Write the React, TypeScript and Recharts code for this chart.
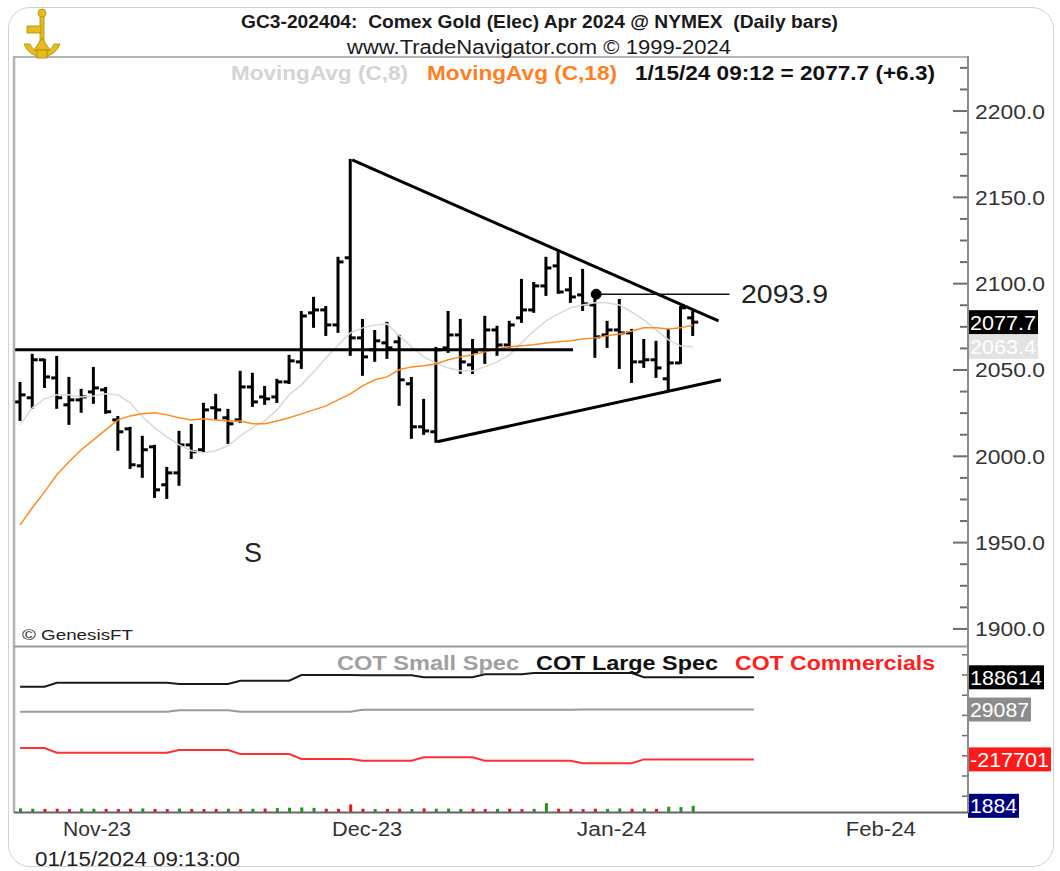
import React from 'react'
import { ComposedChart, Bar, Line, XAxis, YAxis, ReferenceLine, ReferenceDot, Cell } from 'recharts'

const FONT = '"Liberation Sans", Arial, sans-serif'
const PLOT_RIGHT = 968

// daily bars, Oct 26 2023 .. Jan 15 2024 (index = trading day)
const opens = [2031.5, 2033.9, 2055.9, 2045.4, 2029.8, 2032.7, 2037.3, 2038.5, 2021.1, 2015.9, 1994.5, 2005.5, 1983.5, 1990.4, 2006.6, 2003.8, 2028.1, 2022.3, 2021.1, 2040.2, 2034.4, 2034.4, 2043.1, 2054.7, 2083.1, 2084.8, 2076.1, 2115.0, 2068.6, 2061.7, 2065.7, 2066.3, 2042.0, 2017.1, 2014.2, 2062.8, 2070.3, 2053.0, 2061.7, 2073.2, 2064.5, 2080.2, 2084.8, 2098.7, 2110.3, 2096.4, 2093.5, 2087.7, 2070.3, 2073.2, 2071.5, 2054.7, 2055.9, 2044.9, 2054.1, 2080.2]
const highs = [2042.5, 2058.8, 2055.9, 2057.6, 2045.4, 2038.5, 2051.2, 2039.6, 2022.8, 2016.5, 2011.3, 2006.1, 1993.3, 2014.2, 2018.2, 2030.4, 2035.6, 2026.9, 2048.9, 2047.8, 2040.2, 2044.3, 2058.2, 2083.6, 2091.8, 2086.5, 2115.0, 2171.7, 2079.0, 2072.6, 2077.3, 2069.8, 2045.4, 2032.7, 2062.8, 2083.6, 2079.0, 2067.4, 2080.8, 2075.0, 2077.9, 2102.2, 2100.4, 2115.0, 2118.4, 2103.3, 2108.0, 2090.6, 2077.9, 2090.6, 2073.2, 2067.4, 2066.3, 2073.2, 2086.5, 2083.6]
const lows = [2021.1, 2028.1, 2040.2, 2028.1, 2018.8, 2025.8, 2031.0, 2025.2, 2003.8, 1993.3, 1988.1, 1976.5, 1975.9, 1983.5, 1999.1, 2002.6, 2021.7, 2007.8, 2020.0, 2029.2, 2030.4, 2031.5, 2042.5, 2051.2, 2075.0, 2070.3, 2072.1, 2058.8, 2047.2, 2055.3, 2057.0, 2029.8, 2010.7, 2013.0, 2008.4, 2060.5, 2048.3, 2048.3, 2054.1, 2058.8, 2063.4, 2077.9, 2083.7, 2093.5, 2094.7, 2089.4, 2084.8, 2057.6, 2063.4, 2051.2, 2043.1, 2051.8, 2046.0, 2038.5, 2054.1, 2070.3]
const closes = [2035.6, 2055.9, 2046.0, 2033.9, 2032.7, 2034.4, 2039.6, 2025.8, 2014.2, 1995.1, 2003.8, 1980.6, 1990.4, 2006.6, 2002.6, 2026.9, 2026.9, 2018.8, 2040.2, 2031.5, 2033.3, 2043.1, 2055.3, 2081.3, 2084.8, 2076.1, 2112.6, 2068.6, 2057.6, 2066.9, 2062.8, 2044.3, 2017.1, 2014.7, 2061.7, 2070.3, 2054.7, 2060.5, 2073.2, 2064.5, 2076.1, 2084.8, 2098.7, 2109.1, 2095.2, 2092.3, 2088.3, 2069.2, 2073.2, 2071.5, 2054.7, 2055.9, 2051.2, 2054.1, 2086.0, 2077.7]
const ma8 = [2018.2, 2028.1, 2033.3, 2035.6, 2035.6, 2034.4, 2035.0, 2036.2, 2035.6, 2031.0, 2022.9, 2016.5, 2011.3, 2006.6, 2003.2, 2002.0, 2003.2, 2006.1, 2011.9, 2016.5, 2020.5, 2026.9, 2035.6, 2041.4, 2048.9, 2057.0, 2064.5, 2071.5, 2074.4, 2076.1, 2076.7, 2069.8, 2063.4, 2057.6, 2054.1, 2051.2, 2049.5, 2049.5, 2051.8, 2054.7, 2058.8, 2065.7, 2072.6, 2078.4, 2082.5, 2086.0, 2087.7, 2088.9, 2088.9, 2087.7, 2083.6, 2079.0, 2073.2, 2067.4, 2063.9, 2063.4]
const ma18 = [1960.3, 1970.2, 1979.4, 1989.3, 1996.8, 2003.8, 2009.5, 2015.3, 2021.1, 2023.4, 2024.6, 2025.2, 2024.0, 2022.3, 2021.1, 2021.7, 2021.1, 2020.5, 2020.5, 2018.8, 2018.8, 2020.5, 2022.3, 2024.6, 2026.9, 2029.2, 2032.7, 2036.2, 2040.8, 2044.3, 2046.0, 2050.1, 2051.8, 2052.4, 2053.5, 2055.9, 2057.6, 2058.8, 2060.5, 2062.2, 2063.4, 2064.0, 2064.6, 2065.7, 2066.3, 2066.9, 2068.0, 2068.6, 2069.8, 2070.9, 2072.6, 2074.4, 2074.4, 2073.8, 2074.4, 2076.1]

const priceTicks = [1900, 1912.5, 1925, 1937.5, 1950, 1962.5, 1975, 1987.5, 2000, 2012.5, 2025, 2037.5, 2050, 2062.5, 2075, 2087.5, 2100, 2112.5, 2125, 2137.5, 2150, 2162.5, 2175, 2187.5, 2200, 2212.5, 2225]
const monthTicks = [4, 26, 46, 68]
const monthLabels = ['Nov-23', 'Dec-23', 'Jan-24', 'Feb-24']

// drawn lines: [x1, price1, x2, price2]
const trendLines = [
  [27.15, 2171.7, 57.1, 2078.4],
  [-0.5, 2061.7, 45.2, 2061.7],
  [34.1, 2008.4, 57.3, 2044.3],
]
const markLevel = [47.1, 58.0, 2093.9]

// COT (weekly), held from each start index
const cotWeekStart = [0, 3, 13, 18, 23, 28, 33, 38, 42, 46, 51]
const cotLastIdx = 60
const largeSpec = [142100, 161900, 155400, 171800, 200000, 199000, 188600, 204000, 209900, 209900, 188614]
const smallSpec = [18300, 18300, 25500, 18300, 18300, 27500, 28000, 28500, 28000, 28600, 29087]
const commercials = [-161400, -184600, -171300, -191100, -215800, -224200, -207400, -224200, -224200, -237100, -217701]
const cotTicks = [-400000, -300000, -200000, -100000, 0, 100000, 200000, 300000]

const histValues = [1100, 1000, 950, 1000, 900, 1050, 1000, 950, 900, 1000, 1100, 950, 900, 1050, 950, 900, 950, 1000, 900, 1000, 1050, 1200, 1300, 1400, 1250, 1000, 950, 2300, 1000, 900, 950, 1000, 900, 1100, 1000, 1050, 950, 1000, 900, 950, 1000, 900, 950, 2700, 1000, 950, 900, 1000, 950, 1100, 1000, 1050, 950, 1600, 1500, 1884]
const histUp = ['g', 'g', 'r', 'r', 'r', 'g', 'g', 'r', 'r', 'r', 'g', 'r', 'r', 'g', 'r', 'r', 'r', 'g', 'r', 'g', 'r', 'g', 'g', 'g', 'g', 'r', 'r', 'r', 'r', 'g', 'r', 'r', 'g', 'r', 'g', 'g', 'g', 'r', 'r', 'g', 'r', 'r', 'g', 'g', 'r', 'r', 'r', 'r', 'g', 'g', 'r', 'g', 'r', 'g', 'g', 'g']

const priceData = opens.map((o, i) => ({
  idx: i,
  open: o,
  high: highs[i],
  low: lows[i],
  close: closes[i],
  range: [lows[i], highs[i]],
  ma8: ma8[i],
  ma18: ma18[i],
}))

const cotData = Array.from({ length: cotLastIdx + 1 }, (_, i) => {
  let w = 0
  while (w + 1 < cotWeekStart.length && cotWeekStart[w + 1] <= i) w++
  return {
    idx: i,
    large: largeSpec[w],
    small: smallSpec[w],
    comm: commercials[w],
    hist: i < histValues.length ? histValues[i] : null,
  }
})

const OhlcBar = (props: any) => {
  const { x, y, width, height, payload } = props
  if (x == null || y == null || !payload) return null
  const top = Math.min(y, y + height)
  const h = Math.abs(height)
  const cx = x + width / 2
  const span = payload.high - payload.low || 1
  const py = (v: number) => top + ((payload.high - v) / span) * h
  return (
    <g stroke="#000" strokeWidth={3}>
      <line x1={cx} x2={cx} y1={top - 1} y2={top + h + 1} />
      <line x1={cx - 5.5} x2={cx} y1={py(payload.open)} y2={py(payload.open)} />
      <line x1={cx} x2={cx + 5.5} y1={py(payload.close)} y2={py(payload.close)} />
    </g>
  )
}

const PriceTick = (props: any) => {
  const { y, payload } = props
  const v = payload.value
  const major = v % 50 === 0
  return (
    <g>
      <line x1={PLOT_RIGHT - (major ? 15 : 8)} x2={PLOT_RIGHT} y1={y} y2={y} stroke="#6c6c6c" strokeWidth={2} />
      {major && (
        <text x={PLOT_RIGHT + 7} y={y + 7.5} fontSize={21} fill="#333" fontFamily={FONT} textLength={70} lengthAdjust="spacingAndGlyphs">
          {v.toFixed(1)}
        </text>
      )}
    </g>
  )
}

const CotTick = (props: any) => {
  const { y } = props
  return <line x1={PLOT_RIGHT - 6} x2={PLOT_RIGHT} y1={y} y2={y} stroke="#6c6c6c" strokeWidth={1.5} />
}

const MonthTick = (props: any) => {
  const { x, payload } = props
  const label = monthLabels[monthTicks.indexOf(payload.value)]
  return (
    <text x={x - 6} y={191} fontSize={20} fill="#333" fontFamily={FONT} textLength={label === 'Nov-23' ? 68 : 70} lengthAdjust="spacingAndGlyphs">
      {label}
    </text>
  )
}

function valueTag(text: string, bg: string, fg: string, width: number) {
  return (props: any) => {
    const vb = props.viewBox || {}
    const x = (vb.x ?? 0) + (vb.width ?? 0)
    const y = vb.y ?? 0
    return (
      <g>
        <rect x={x} y={y - 12} width={width} height={24} fill={bg} />
        <text x={x + 2} y={y + 7.5} fontSize={20} fill={fg} fontFamily={FONT} textLength={width - 4} lengthAdjust="spacingAndGlyphs">
          {text}
        </text>
      </g>
    )
  }
}

const txt = (x: number, y: number, s: string, len: number, size: number, fill: string, bold = false) => (
  <text
    x={x}
    y={y}
    fontSize={size}
    fill={fill}
    fontFamily={FONT}
    fontWeight={bold ? 'bold' : 'normal'}
    textLength={len}
    lengthAdjust="spacingAndGlyphs"
    style={{ whiteSpace: 'pre' }}
  >
    {s}
  </text>
)

export default function App() {
  return (
    <div style={{ position: 'absolute', left: 0, top: 0, width: 1060, height: 871, background: '#fff', overflow: 'hidden' }}>
      <div style={{ position: 'absolute', left: 8, top: 7, width: 1044, height: 858, border: '1.5px solid #d2d2d2', borderRadius: 22 }} />

      <div style={{ position: 'absolute', left: 0, top: 0 }}>
        <ComposedChart width={1060} height={648} data={priceData} margin={{ top: 57, right: 0, bottom: 3, left: 14 }}>
          <XAxis dataKey="idx" type="number" domain={[-0.5, 77.5]} allowDataOverflow hide />
          <YAxis
            orientation="right"
            width={92}
            domain={[1890.7, 2231.3]}
            allowDataOverflow
            ticks={priceTicks}
            interval={0}
            axisLine={false}
            tickLine={false}
            tick={<PriceTick />}
          />
          <Line dataKey="ma8" stroke="#d9d9d9" strokeWidth={1.5} dot={false} isAnimationActive={false} />
          <Line dataKey="ma18" stroke="#ff8a1f" strokeWidth={1.5} dot={false} isAnimationActive={false} />
          {trendLines.map((t, i) => (
            <ReferenceLine
              key={i}
              segment={[{ x: t[0], y: t[1] }, { x: t[2], y: t[3] }]}
              stroke="#000"
              strokeWidth={3}
            />
          ))}
          <ReferenceLine
            segment={[{ x: markLevel[0], y: markLevel[2] }, { x: markLevel[1], y: markLevel[2] }]}
            stroke="#111"
            strokeWidth={1.5}
          />
          <Bar dataKey="range" barSize={12} shape={<OhlcBar />} isAnimationActive={false} />
          <ReferenceDot x={markLevel[0]} y={markLevel[2]} r={5} fill="#000" stroke="#000" />
          <ReferenceLine y={closes[closes.length - 1]} stroke="none" label={valueTag('2077.7', '#000', '#fff', 70)} />
          <ReferenceLine y={ma8[ma8.length - 1]} stroke="none" label={valueTag('2063.4', '#e2e2e2', '#fff', 70)} />
        </ComposedChart>
      </div>

      <div style={{ position: 'absolute', left: 0, top: 645 }}>
        <ComposedChart width={1060} height={200} data={cotData} margin={{ top: 3, right: 0, bottom: 0, left: 14 }}>
          <XAxis
            dataKey="idx"
            type="number"
            domain={[-0.5, 77.5]}
            allowDataOverflow
            ticks={monthTicks}
            interval={0}
            height={33}
            axisLine={false}
            tickLine={false}
            tick={<MonthTick />}
          />
          <YAxis
            yAxisId="cot"
            orientation="right"
            width={92}
            domain={[-478170, 333630]}
            allowDataOverflow
            ticks={cotTicks}
            interval={0}
            axisLine={false}
            tickLine={false}
            tick={<CotTick />}
          />
          <YAxis yAxisId="hist" hide domain={[0, 50000]} allowDataOverflow />
          <Bar yAxisId="hist" dataKey="hist" barSize={3} isAnimationActive={false}>
            {cotData.map((d, i) => (
              <Cell key={i} fill={histUp[i] === 'r' ? '#e8141a' : '#1a9a1a'} />
            ))}
          </Bar>
          <Line yAxisId="cot" dataKey="large" stroke="#1a1a1a" strokeWidth={2} dot={false} isAnimationActive={false} />
          <Line yAxisId="cot" dataKey="small" stroke="#9a9a9a" strokeWidth={2} dot={false} isAnimationActive={false} />
          <Line yAxisId="cot" dataKey="comm" stroke="#ff3030" strokeWidth={2} dot={false} isAnimationActive={false} />
          <ReferenceLine yAxisId="cot" y={largeSpec[largeSpec.length - 1]} stroke="none" label={valueTag('188614', '#000', '#fff', 76)} />
          <ReferenceLine yAxisId="cot" y={smallSpec[smallSpec.length - 1]} stroke="none" label={valueTag('29087', '#8c8c8c', '#fff', 63)} />
          <ReferenceLine yAxisId="cot" y={commercials[commercials.length - 1]} stroke="none" label={valueTag('-217701', '#ff1a1a', '#fff', 83)} />
          <ReferenceLine yAxisId="hist" y={histValues[histValues.length - 1]} stroke="none" label={valueTag('1884', '#00007f', '#fff', 51)} />
        </ComposedChart>
      </div>

      <svg width={1060} height={871} style={{ position: 'absolute', left: 0, top: 0, pointerEvents: 'none' }}>
        {/* panel frame */}
        <line x1={14} x2={PLOT_RIGHT} y1={57} y2={57} stroke="#b4b4b4" strokeWidth={2} />
        <line x1={14} x2={14} y1={56} y2={813} stroke="#b4b4b4" strokeWidth={2.5} />
        <line x1={PLOT_RIGHT} x2={PLOT_RIGHT} y1={56} y2={813} stroke="#8a8a8a" strokeWidth={2} />
        <line x1={14} x2={PLOT_RIGHT} y1={646.5} y2={646.5} stroke="#9a9a9a" strokeWidth={2} />
        <line x1={14} x2={PLOT_RIGHT} y1={812.5} y2={812.5} stroke="#666" strokeWidth={2} />

        {/* logo */}
        <g fill="#e6bd1c" stroke="#b08a10" strokeWidth={0.8}>
          <path d="M24 44 A 19 19 0 0 0 60 44 L 54 44 A 13 13 0 0 1 30 44 Z" />
          <rect x={40} y={12} width={4} height={38} />
          <rect x={27} y={26} width={14} height={7} />
          <circle cx={42} cy={13} r={4} />
          <path d="M34 50 L 42 38 L 50 50 Z" />
          <rect x={37} y={50} width={10} height={8} />
        </g>

        {txt(241, 28, 'GC3-202404:  Comex Gold (Elec) Apr 2024 @ NYMEX  (Daily bars)', 597, 19, '#1a1a1a', true)}
        {txt(347, 54, 'www.TradeNavigator.com © 1999-2024', 384, 20, '#1a1a1a')}
        {txt(231, 80, 'MovingAvg (C,8)', 177, 21, '#d4d4d4', true)}
        {txt(427, 80, 'MovingAvg (C,18)', 190, 21, '#ff7f27', true)}
        {txt(635, 80, '1/15/24 09:12 = 2077.7 (+6.3)', 300, 21, '#111', true)}

        {txt(741, 303, '2093.9', 87, 25, '#222')}
        {txt(244, 562, 'S', 18, 27, '#222')}
        {txt(22, 640, '© GenesisFT', 111, 15, '#222')}

        {txt(337, 670, 'COT Small Spec', 182, 20, '#a0a0a0', true)}
        {txt(536, 670, 'COT Large Spec', 182, 20, '#111', true)}
        {txt(735, 670, 'COT Commercials', 200, 20, '#ff2020', true)}

        {txt(35, 866, '01/15/2024 09:13:00', 205, 20, '#222')}
      </svg>
    </div>
  )
}
